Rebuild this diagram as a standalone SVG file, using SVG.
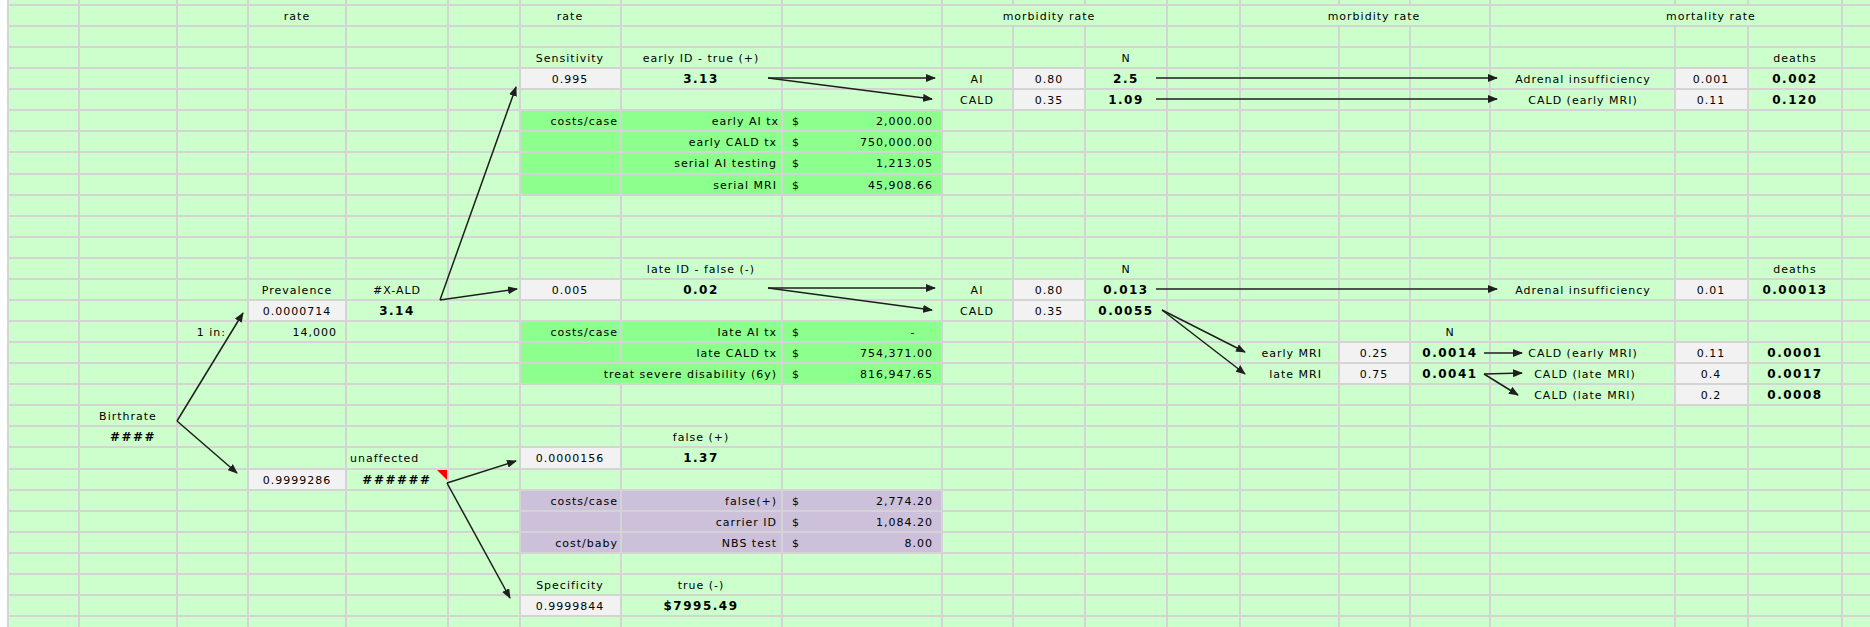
<svg xmlns="http://www.w3.org/2000/svg" width="1870" height="627" viewBox="0 0 1870 627">
<defs>
<style>
.t{font-family:"DejaVu Sans","Liberation Sans",sans-serif;font-size:11px;letter-spacing:1px;fill:#000}
.b{font-weight:bold;font-size:12px;letter-spacing:1.5px}
.c{text-anchor:middle}
.r{text-anchor:end}
.gy{fill:#F2F2F2}
.gn{fill:#8CFF8C}
.pu{fill:#CCC0DA}
.grid line{stroke:#D4D4D4;stroke-width:2}
.con line{stroke:#1E1E1E;stroke-width:1.5;marker-end:url(#ah)}
</style>
<marker id="ah" markerUnits="userSpaceOnUse" markerWidth="10" markerHeight="8" refX="9" refY="4" orient="auto">
<path d="M0,0 L10,4 L0,8 z" fill="#1E1E1E"/>
</marker>
</defs>
<rect x="0" y="0" width="1870" height="627" fill="#FFFFFF"/>
<rect x="8" y="0" width="1862" height="627" fill="#CCFFCC"/>
<g id="fills">
<rect class="gn" x="520" y="110" width="422" height="85"/>
<rect class="gn" x="520" y="321" width="422" height="63"/>
<rect class="pu" x="520" y="490" width="422" height="63"/>
<rect class="gy" x="520" y="68" width="101" height="21"/>
<rect class="gy" x="1013" y="68" width="72" height="21"/>
<rect class="gy" x="1675" y="68" width="73" height="21"/>
<rect class="gy" x="1013" y="89" width="72" height="21"/>
<rect class="gy" x="1675" y="89" width="73" height="21"/>
<rect class="gy" x="520" y="279" width="101" height="21"/>
<rect class="gy" x="1013" y="279" width="72" height="21"/>
<rect class="gy" x="1675" y="279" width="73" height="21"/>
<rect class="gy" x="248" y="300" width="98" height="21"/>
<rect class="gy" x="1013" y="300" width="72" height="21"/>
<rect class="gy" x="1339" y="342" width="71" height="21"/>
<rect class="gy" x="1675" y="342" width="73" height="21"/>
<rect class="gy" x="1339" y="363" width="71" height="21"/>
<rect class="gy" x="1675" y="363" width="73" height="21"/>
<rect class="gy" x="1675" y="384" width="73" height="21"/>
<rect class="gy" x="520" y="447" width="101" height="22"/>
<rect class="gy" x="248" y="469" width="98" height="21"/>
<rect class="gy" x="520" y="595" width="101" height="21"/>
</g>
<g class="grid" id="grid">
<line x1="8" y1="0" x2="8" y2="627"/>
<line x1="79" y1="0" x2="79" y2="627"/>
<line x1="177" y1="0" x2="177" y2="627"/>
<line x1="248" y1="0" x2="248" y2="627"/>
<line x1="346" y1="0" x2="346" y2="627"/>
<line x1="448" y1="0" x2="448" y2="627"/>
<line x1="520" y1="0" x2="520" y2="627"/>
<line x1="621" y1="0" x2="621" y2="627"/>
<line x1="782" y1="0" x2="782" y2="627"/>
<line x1="942" y1="0" x2="942" y2="627"/>
<line x1="1013" y1="0" x2="1013" y2="627"/>
<line x1="1085" y1="0" x2="1085" y2="627"/>
<line x1="1167" y1="0" x2="1167" y2="627"/>
<line x1="1240" y1="0" x2="1240" y2="627"/>
<line x1="1339" y1="0" x2="1339" y2="627"/>
<line x1="1410" y1="0" x2="1410" y2="627"/>
<line x1="1490" y1="0" x2="1490" y2="627"/>
<line x1="1675" y1="0" x2="1675" y2="627"/>
<line x1="1748" y1="0" x2="1748" y2="627"/>
<line x1="1842" y1="0" x2="1842" y2="627"/>
<line x1="8" y1="5" x2="1870" y2="5"/>
<line x1="8" y1="26" x2="1870" y2="26"/>
<line x1="8" y1="47" x2="1870" y2="47"/>
<line x1="8" y1="68" x2="1870" y2="68"/>
<line x1="8" y1="89" x2="1870" y2="89"/>
<line x1="8" y1="110" x2="1870" y2="110"/>
<line x1="8" y1="131" x2="1870" y2="131"/>
<line x1="8" y1="152" x2="1870" y2="152"/>
<line x1="8" y1="174" x2="1870" y2="174"/>
<line x1="8" y1="195" x2="1870" y2="195"/>
<line x1="8" y1="216" x2="1870" y2="216"/>
<line x1="8" y1="237" x2="1870" y2="237"/>
<line x1="8" y1="258" x2="1870" y2="258"/>
<line x1="8" y1="279" x2="1870" y2="279"/>
<line x1="8" y1="300" x2="1870" y2="300"/>
<line x1="8" y1="321" x2="1870" y2="321"/>
<line x1="8" y1="342" x2="1870" y2="342"/>
<line x1="8" y1="363" x2="1870" y2="363"/>
<line x1="8" y1="384" x2="1870" y2="384"/>
<line x1="8" y1="405" x2="1870" y2="405"/>
<line x1="8" y1="426" x2="1870" y2="426"/>
<line x1="8" y1="447" x2="1870" y2="447"/>
<line x1="8" y1="469" x2="1870" y2="469"/>
<line x1="8" y1="490" x2="1870" y2="490"/>
<line x1="8" y1="511" x2="1870" y2="511"/>
<line x1="8" y1="532" x2="1870" y2="532"/>
<line x1="8" y1="553" x2="1870" y2="553"/>
<line x1="8" y1="574" x2="1870" y2="574"/>
<line x1="8" y1="595" x2="1870" y2="595"/>
<line x1="8" y1="616" x2="1870" y2="616"/>
</g>
<g id="overflow-covers">
<rect x="1010" y="6" width="78" height="19" fill="#CCFFCC"/>
<rect x="1336" y="6" width="77" height="19" fill="#CCFFCC"/>
<rect x="1672" y="6" width="79" height="19" fill="#CCFFCC"/>
<rect x="618" y="364" width="6" height="19" class="gn"/>
</g>
<g id="headers">
<text class="t c" x="297" y="20">rate</text>
<text class="t c" x="570" y="20">rate</text>
<text class="t c" x="1049" y="20">morbidity rate</text>
<text class="t c" x="1374" y="20">morbidity rate</text>
<text class="t c" x="1711" y="20">mortality rate</text>
</g>
<g id="n-birthrate">
<text class="t c" x="128" y="420">Birthrate</text>
<text class="t b c" x="133" y="441">####</text>
</g>
<g id="n-prevalence">
<text class="t c" x="297" y="294">Prevalence</text>
<text class="t c" x="297" y="315">0.0000714</text>
<text class="t r" x="226" y="336">1 in:</text>
<text class="t r" x="337" y="336">14,000</text>
</g>
<g id="n-xald">
<text class="t c" x="397" y="294">#X-ALD</text>
<text class="t b c" x="397" y="315">3.14</text>
</g>
<g id="n-unaffected">
<text class="t" x="350" y="462">unaffected</text>
<text class="t c" x="297" y="484">0.9999286</text>
<text class="t b c" x="397" y="484">######</text>
<polygon points="437,470 447,470 447,480" fill="#FF0000"/>
</g>
<g id="n-early">
<text class="t c" x="570" y="62">Sensitivity</text>
<text class="t c" x="701" y="62">early ID - true (+)</text>
<text class="t c" x="570" y="83">0.995</text>
<text class="t b c" x="701" y="83">3.13</text>
</g>
<g id="n-early-costs">
<text class="t r" x="618" y="125">costs/case</text>
<text class="t r" x="779" y="125">early AI tx</text>
<text class="t" x="792" y="125">$</text>
<text class="t r" x="933" y="125">2,000.00</text>
<text class="t r" x="777" y="146">early CALD tx</text>
<text class="t" x="792" y="146">$</text>
<text class="t r" x="933" y="146">750,000.00</text>
<text class="t r" x="777" y="167">serial AI testing</text>
<text class="t" x="792" y="167">$</text>
<text class="t r" x="933" y="167">1,213.05</text>
<text class="t r" x="777" y="189">serial MRI</text>
<text class="t" x="792" y="189">$</text>
<text class="t r" x="933" y="189">45,908.66</text>
</g>
<g id="n-late">
<text class="t c" x="701" y="273">late ID - false (-)</text>
<text class="t c" x="570" y="294">0.005</text>
<text class="t b c" x="701" y="294">0.02</text>
</g>
<g id="n-late-costs">
<text class="t r" x="618" y="336">costs/case</text>
<text class="t r" x="777" y="336">late AI tx</text>
<text class="t" x="792" y="336">$</text>
<text class="t c" x="913" y="336">-</text>
<text class="t r" x="777" y="357">late CALD tx</text>
<text class="t" x="792" y="357">$</text>
<text class="t r" x="933" y="357">754,371.00</text>
<text class="t r" x="777" y="378">treat severe disability (6y)</text>
<text class="t" x="792" y="378">$</text>
<text class="t r" x="933" y="378">816,947.65</text>
</g>
<g id="n-falsepos">
<text class="t c" x="701" y="441">false (+)</text>
<text class="t c" x="570" y="462">0.0000156</text>
<text class="t b c" x="701" y="462">1.37</text>
</g>
<g id="n-falsepos-costs">
<text class="t r" x="618" y="505">costs/case</text>
<text class="t r" x="777" y="505">false(+)</text>
<text class="t" x="792" y="505">$</text>
<text class="t r" x="933" y="505">2,774.20</text>
<text class="t r" x="777" y="526">carrier ID</text>
<text class="t" x="792" y="526">$</text>
<text class="t r" x="933" y="526">1,084.20</text>
<text class="t r" x="618" y="547">cost/baby</text>
<text class="t r" x="777" y="547">NBS test</text>
<text class="t" x="792" y="547">$</text>
<text class="t r" x="933" y="547">8.00</text>
</g>
<g id="n-trueneg">
<text class="t c" x="570" y="589">Specificity</text>
<text class="t c" x="701" y="589">true (-)</text>
<text class="t c" x="570" y="610">0.9999844</text>
<text class="t b c" x="701" y="610">$7995.49</text>
</g>
<g id="n-morb-early">
<text class="t c" x="1126" y="62">N</text>
<text class="t c" x="977" y="83">AI</text>
<text class="t c" x="1049" y="83">0.80</text>
<text class="t b c" x="1126" y="83">2.5</text>
<text class="t c" x="977" y="104">CALD</text>
<text class="t c" x="1049" y="104">0.35</text>
<text class="t b c" x="1126" y="104">1.09</text>
</g>
<g id="n-mort-early">
<text class="t c" x="1795" y="62">deaths</text>
<text class="t c" x="1583" y="83">Adrenal insufficiency</text>
<text class="t c" x="1711" y="83">0.001</text>
<text class="t b c" x="1795" y="83">0.002</text>
<text class="t c" x="1583" y="104">CALD (early MRI)</text>
<text class="t c" x="1711" y="104">0.11</text>
<text class="t b c" x="1795" y="104">0.120</text>
</g>
<g id="n-morb-late">
<text class="t c" x="1126" y="273">N</text>
<text class="t c" x="977" y="294">AI</text>
<text class="t c" x="1049" y="294">0.80</text>
<text class="t b c" x="1126" y="294">0.013</text>
<text class="t c" x="977" y="315">CALD</text>
<text class="t c" x="1049" y="315">0.35</text>
<text class="t b c" x="1126" y="315">0.0055</text>
</g>
<g id="n-mri">
<text class="t c" x="1450" y="336">N</text>
<text class="t r" x="1322" y="357">early MRI</text>
<text class="t c" x="1374" y="357">0.25</text>
<text class="t b c" x="1450" y="357">0.0014</text>
<text class="t r" x="1322" y="378">late MRI</text>
<text class="t c" x="1374" y="378">0.75</text>
<text class="t b c" x="1450" y="378">0.0041</text>
</g>
<g id="n-mort-late">
<text class="t c" x="1795" y="273">deaths</text>
<text class="t c" x="1583" y="294">Adrenal insufficiency</text>
<text class="t c" x="1711" y="294">0.01</text>
<text class="t b c" x="1795" y="294">0.00013</text>
<text class="t c" x="1583" y="357">CALD (early MRI)</text>
<text class="t c" x="1711" y="357">0.11</text>
<text class="t b c" x="1795" y="357">0.0001</text>
<text class="t c" x="1585" y="378">CALD (late MRI)</text>
<text class="t c" x="1711" y="378">0.4</text>
<text class="t b c" x="1795" y="378">0.0017</text>
<text class="t c" x="1585" y="399">CALD (late MRI)</text>
<text class="t c" x="1711" y="399">0.2</text>
<text class="t b c" x="1795" y="399">0.0008</text>
</g>
<g class="con" id="connectors">
<line x1="177" y1="421" x2="243" y2="313"/>
<line x1="177" y1="421" x2="237" y2="473"/>
<line x1="440" y1="300" x2="516" y2="87"/>
<line x1="440" y1="300" x2="517" y2="289"/>
<line x1="447" y1="483" x2="516" y2="461"/>
<line x1="447" y1="483" x2="510" y2="598"/>
<line x1="768" y1="78" x2="935" y2="78"/>
<line x1="768" y1="78" x2="932" y2="99"/>
<line x1="768" y1="288" x2="935" y2="288"/>
<line x1="768" y1="288" x2="932" y2="310"/>
<line x1="1156" y1="78" x2="1497" y2="78"/>
<line x1="1156" y1="99" x2="1497" y2="99"/>
<line x1="1156" y1="289" x2="1497" y2="289"/>
<line x1="1162" y1="310" x2="1245" y2="352"/>
<line x1="1162" y1="310" x2="1245" y2="374"/>
<line x1="1484" y1="353" x2="1522" y2="353"/>
<line x1="1484" y1="374" x2="1522" y2="373"/>
<line x1="1484" y1="374" x2="1518" y2="395"/>
</g>
</svg>
